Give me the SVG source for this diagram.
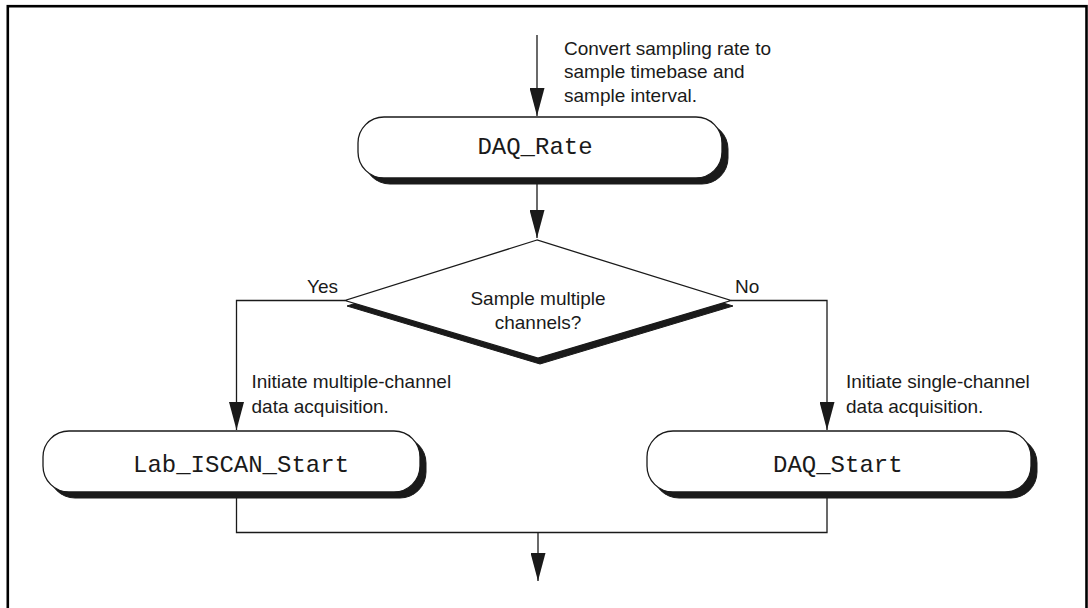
<svg xmlns="http://www.w3.org/2000/svg" width="1088" height="608" viewBox="0 0 1088 608">
<style>
.lbl{font-family:"Liberation Sans",Arial,sans-serif;font-size:19px;fill:#1a1a1a}
.code{font-family:"Liberation Mono","Courier New",monospace;font-size:24px;fill:#1a1a1a}
.box{fill:#fff;stroke:#1a1a1a;stroke-width:1.3}
.shadow{fill:#1a1a1a;stroke:#1a1a1a;stroke-width:1}
.conn{fill:none;stroke:#1a1a1a;stroke-width:1.3}
</style>
<defs>
<marker id="arrow" markerUnits="userSpaceOnUse" viewBox="0 0 28 15" refX="28" refY="7.5" markerWidth="28" markerHeight="15" orient="auto">
<path d="M0,0 L28,7.5 L0,15 z" fill="#1a1a1a"/>
</marker>
</defs>
<rect x="0" y="0" width="1088" height="608" fill="#fff"/>
<rect id="frame" x="7.8" y="6.2" width="1078.7" height="700" fill="none" stroke="#000" stroke-width="2.6"/>

<g id="connectors">
<path class="conn" d="M537,35 V116" marker-end="url(#arrow)"/>
<path class="conn" d="M537,184 V238" marker-end="url(#arrow)"/>
<path class="conn" d="M345,300.5 H236.5 V430" marker-end="url(#arrow)"/>
<path class="conn" d="M731,300.5 H827 V430" marker-end="url(#arrow)"/>
<path class="conn" d="M236.5,497 V532.5 H827 V497"/>
<path class="conn" d="M538,532.5 V581" marker-end="url(#arrow)"/>
</g>

<g id="note-rate">
<text class="lbl" x="564" y="55">Convert sampling rate to</text>
<text class="lbl" x="564" y="78.3">sample timebase and</text>
<text class="lbl" x="564" y="101.6">sample interval.</text>
</g>

<g id="daq-rate">
<rect class="shadow" x="364" y="123" width="364" height="61" rx="26"/>
<rect class="box" x="358" y="117" width="364" height="61" rx="26"/>
<text class="code" x="535" y="154" text-anchor="middle">DAQ_Rate</text>
</g>

<g id="decision">
<polygon class="shadow" points="539,246 347,306 540,364 733,306"/>
<polygon class="box" points="537,240 345,300.5 538,358 731,300.5"/>
<text class="lbl" x="538" y="304.5" text-anchor="middle">Sample multiple</text>
<text class="lbl" x="538" y="328.5" text-anchor="middle">channels?</text>
</g>

<g id="labels">
<text class="lbl" x="307" y="293">Yes</text>
<text class="lbl" x="735" y="293">No</text>
<text class="lbl" x="251.5" y="388.3">Initiate multiple-channel</text>
<text class="lbl" x="251.5" y="413.3">data acquisition.</text>
<text class="lbl" x="846" y="388.3">Initiate single-channel</text>
<text class="lbl" x="846" y="413.3">data acquisition.</text>
</g>

<g id="lab-iscan-start">
<rect class="shadow" x="49" y="437" width="377" height="61" rx="26"/>
<rect class="box" x="43" y="431" width="377" height="61" rx="26"/>
<text class="code" x="133" y="471.5">Lab_ISCAN_Start</text>
</g>

<g id="daq-start">
<rect class="shadow" x="653" y="437" width="384" height="61" rx="26"/>
<rect class="box" x="647" y="431" width="384" height="61" rx="26"/>
<text class="code" x="773" y="471.5">DAQ_Start</text>
</g>
</svg>
